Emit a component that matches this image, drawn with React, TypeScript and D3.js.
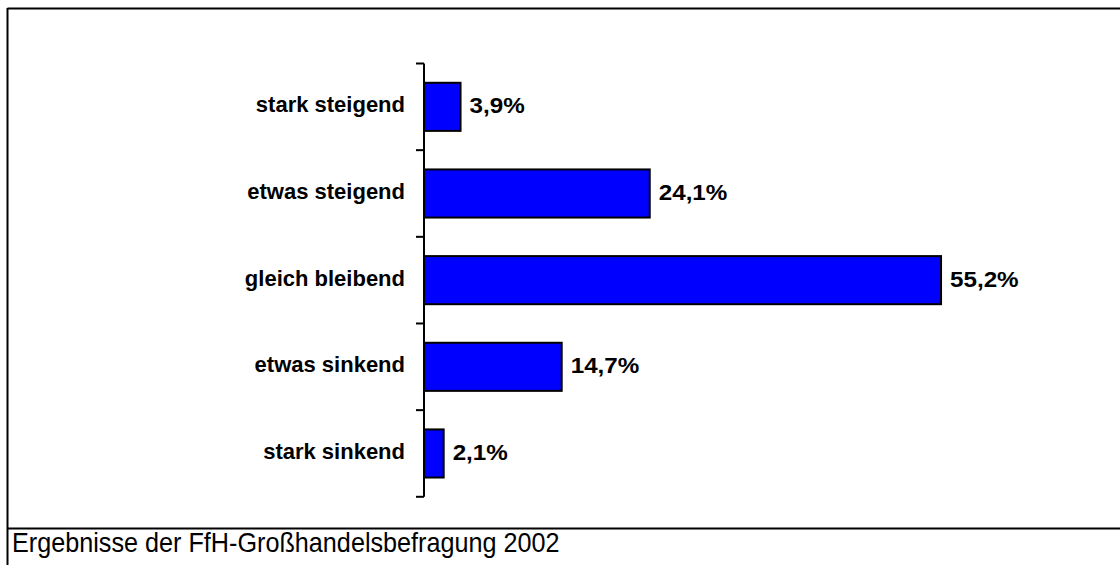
import React from "react";
import * as d3 from "d3";

const categories = ["stark steigend", "etwas steigend", "gleich bleibend", "etwas sinkend", "stark sinkend"];
const values = [3.9, 24.1, 55.2, 14.7, 2.1];
const valueLabels = ["3,9%", "24,1%", "55,2%", "14,7%", "2,1%"];
const footerText = "Ergebnisse der FfH-Großhandelsbefragung 2002";

const W = 1120;
const H = 565;
const FONT = "'Liberation Sans', Arial, Helvetica, sans-serif";

export default function App() {
  const x = d3.scaleLinear().domain([0, 60]).range([424, 424 + 562]);
  const y = d3.scaleBand<string>().domain(categories).range([63.5, 496.8]).paddingInner(0.445).paddingOuter(0.2225);
  const bw = y.bandwidth();
  const step = y.step();
  const tickYs = d3.range(categories.length + 1).map((i) => 63.5 + i * step);

  return (
    <div style={{ position: "fixed", left: 0, top: 0, width: W, height: H, background: "#fff" }}>
      <svg width={W} height={H} style={{ display: "block" }}>
        <rect x={0} y={0} width={W} height={H} fill="#fff" />
        {/* frame */}
        <line x1={7.5} y1={8.5} x2={W} y2={8.5} stroke="#000" strokeWidth={2} />
        <line x1={7.5} y1={8} x2={7.5} y2={H} stroke="#000" strokeWidth={2} />
        <line x1={7.5} y1={528.5} x2={W} y2={528.5} stroke="#000" strokeWidth={2} />
        {/* bars */}
        {categories.map((c, i) => (
          <rect
            key={c}
            x={x(0)}
            y={y(c)!}
            width={x(values[i]) - x(0)}
            height={bw}
            fill="#0000ff"
            stroke="#000"
            strokeWidth={2}
          />
        ))}
        {/* axis */}
        <line x1={x(0)} y1={tickYs[0]} x2={x(0)} y2={tickYs[tickYs.length - 1]} stroke="#000" strokeWidth={2} />
        {tickYs.map((t, i) => (
          <line key={i} x1={x(0) - 8} y1={t} x2={x(0)} y2={t} stroke="#000" strokeWidth={2} />
        ))}
        {/* category labels */}
        {categories.map((c) => (
          <text
            key={c}
            x={405}
            y={y(c)! + bw / 2 + 5.5}
            textAnchor="end"
            fontFamily={FONT}
            fontWeight="bold"
            fontSize={22}
            fill="#000"
          >
            {c}
          </text>
        ))}
        {/* value labels */}
        {categories.map((c, i) => (
          <text
            key={c + "v"}
            transform={`translate(${x(values[i]) + 9},${y(c)! + bw / 2 + 6.5}) scale(1.1,1)`}
            fontFamily={FONT}
            fontWeight="bold"
            fontSize={22}
            fill="#000"
          >
            {valueLabels[i]}
          </text>
        ))}
        {/* footer */}
        <text
          transform="translate(12,552) scale(1,1.12)"
          fontFamily={FONT}
          fontSize={25.2}
          fill="#000"
        >
          {footerText}
        </text>
      </svg>
    </div>
  );
}
